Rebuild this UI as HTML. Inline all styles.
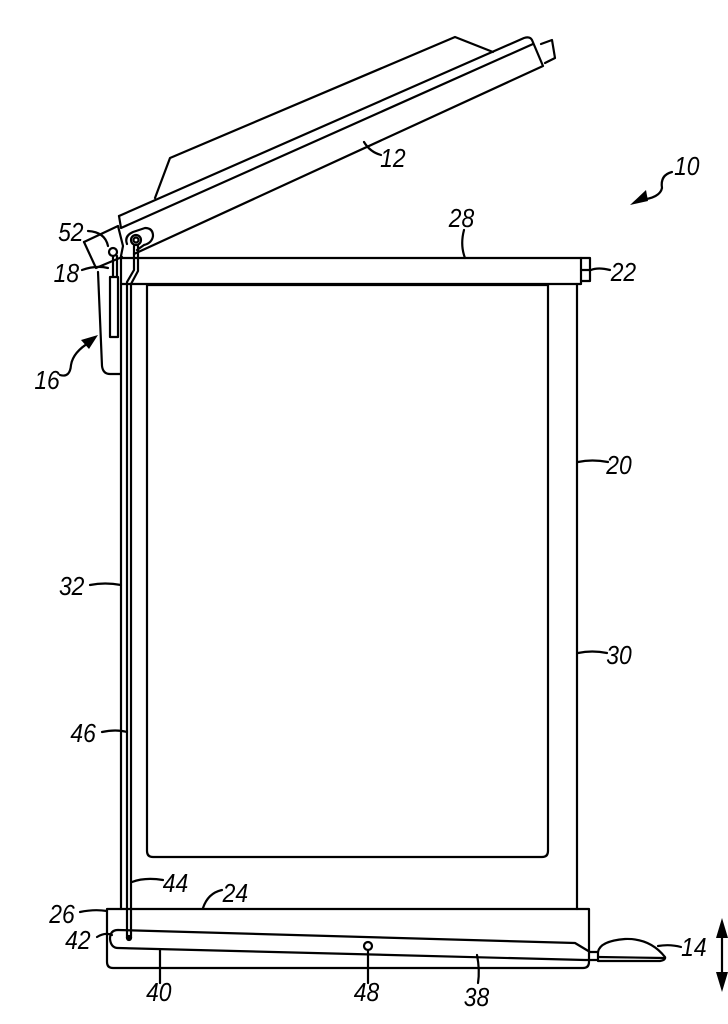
<!DOCTYPE html>
<html><head><style>
html,body{margin:0;padding:0;background:#fff;}
svg{display:block;}
text{font-family:"Liberation Sans",sans-serif;font-style:italic;font-size:26px;fill:#000;}
</style></head><body>
<svg width="728" height="1024" viewBox="0 0 728 1024" xmlns="http://www.w3.org/2000/svg">
<g fill="none" stroke="#000" stroke-width="2.2" stroke-linejoin="round" stroke-linecap="round">
<path d="M155,198 L170,158 L455,37 L493,52"/>
<path d="M119,216 L524,38 Q530,36 532,40 L543,66 L134,254"/>
<path d="M119,216 L121,228 L533,44"/>
<path d="M541,44 L552,40 L555,58 L545,63"/>
<path d="M84,242 L118,226 L123,246 L121,256"/>
<path d="M84,242 L96,268 L122,257"/>
<path d="M127,244 Q124,236 133,232 L145,228 Q153,228 153,236 Q152,243 144,245 L137,250"/>
<circle cx="113" cy="252" r="4"/>
<circle cx="136" cy="240" r="5"/>
<circle cx="136" cy="240" r="2.5"/>
<path d="M121,258 L581,258 L581,284 L121,284"/>
<path d="M581,258 L590,258 L590,281 L581,281 M581,270 L590,270"/>
<path d="M121,256 L121,909"/>
<path d="M577,284 L577,909"/>
<path d="M147,285 L548,285 L548,851 Q548,857 542,857 L153,857 Q147,857 147,851 Z"/>
<path d="M98,272 L102,366 Q103,374 110,374 L120,374"/>
<rect x="110" y="277" width="8" height="60"/>
<path d="M113,256 L113,277 M117,256 L117,277"/>
<path d="M134,246 L134,270 L127,282 L127,938"/>
<path d="M138,246 L138,271 L131,284 L131,938"/>
<circle cx="129" cy="938" r="2" fill="#000"/>
<path d="M107,909 L589,909 L589,962 Q589,968 583,968 L113,968 Q107,968 107,962 Z"/>
<path d="M118,930 L575,943 L590,952 L598,952"/>
<path d="M118,930 Q110,930 110,939 Q111,948 118,948 L585,960 L598,960"/>
<circle cx="368" cy="946" r="4"/>
<path d="M598,952 Q600,941 625,939 Q650,938 665,957 Q666,960 660,961 L598,961 Z"/>
<path d="M598,957 L664,958"/>
<path d="M672,172 Q660,175 662,188 Q660,198 640,200"/>
<path d="M381,155 Q370,152 364,142"/>
<path d="M464,230 Q460,245 465,258"/>
<path d="M88,231 Q105,232 108,246"/>
<path d="M82,270 Q96,265 108,268"/>
<path d="M610,270 Q598,267 591,270"/>
<path d="M60,375 Q70,378 71,365 Q73,352 90,342"/>
<path d="M608,462 Q592,459 578,462"/>
<path d="M90,585 Q105,582 121,585"/>
<path d="M607,653 Q592,650 578,653"/>
<path d="M102,732 Q116,729 127,732"/>
<path d="M163,880 Q145,877 132,882"/>
<path d="M222,890 Q208,893 203,908"/>
<path d="M80,912 Q94,909 107,911"/>
<path d="M97,937 Q105,932 112,935"/>
<path d="M160,983 L160,950"/>
<path d="M368,983 L368,950"/>
<path d="M478,983 Q480,970 477,955"/>
<path d="M681,947 Q670,944 658,946"/>
<path d="M722,925 L722,985"/>
</g>
<g fill="#000">
<path d="M630,205 L646,190 L648,201 Z"/>
<path d="M98,335 L81,340 L89,349 Z"/>
<path d="M722,918 L716,938 L728,938 Z"/>
<path d="M722,992 L716,972 L728,972 Z"/>
</g>
<g transform="scale(0.88,1)">
<text x="766" y="175">10</text>
<text x="432" y="167">12</text>
<text x="510" y="227">28</text>
<text x="66" y="241">52</text>
<text x="61" y="282">18</text>
<text x="694" y="281">22</text>
<text x="39" y="389">16</text>
<text x="689" y="474">20</text>
<text x="67" y="595">32</text>
<text x="689" y="664">30</text>
<text x="80" y="742">46</text>
<text x="185" y="892">44</text>
<text x="253" y="902">24</text>
<text x="56" y="923">26</text>
<text x="74" y="949">42</text>
<text x="166" y="1001">40</text>
<text x="402" y="1001">48</text>
<text x="527" y="1006">38</text>
<text x="774" y="956">14</text>
</g>
</svg>
</body></html>
